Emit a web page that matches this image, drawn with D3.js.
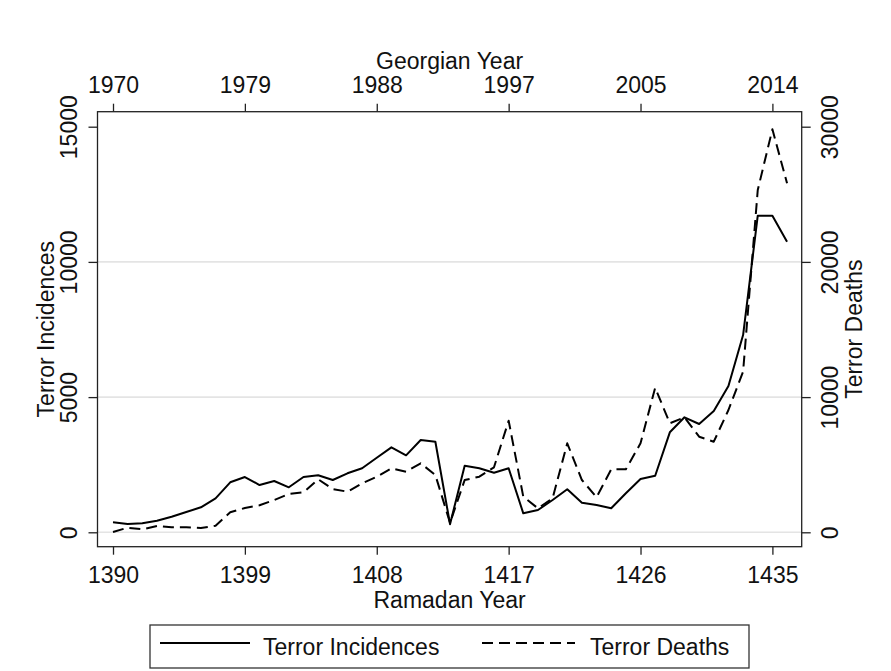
<!DOCTYPE html>
<html>
<head>
<meta charset="utf-8">
<style>
body {
    margin: 0;
    background: #fff;
    font-family: "Liberation Sans", Arial, sans-serif;
}
svg text {
    font-size: 23px;
    fill: #111;
}
.grid line {
    stroke: #e4e4e4;
    stroke-width: 1.6;
}
.axis path {
    display: none;
}
.axis line {
    stroke: #222;
    stroke-width: 1.3;
}
.series {
    fill: none;
    stroke: #000;
    stroke-width: 2;
    stroke-linejoin: round;
}
</style>
</head>
<body>
<script src="https://cdn.jsdelivr.net/npm/d3@7"></script>
<script>

// Ramadan (Hijri) years on the bottom axis
const years = [1390, 1391, 1392, 1393, 1394, 1395, 1396, 1397, 1398, 1399,
               1400, 1401, 1402, 1403, 1404, 1405, 1406, 1407, 1408, 1409,
               1410, 1411, 1412, 1413, 1414, 1415, 1416, 1417, 1418, 1419,
               1420, 1421, 1422, 1423, 1424, 1425, 1426, 1427, 1428, 1429,
               1430, 1431, 1432, 1433, 1434, 1435, 1436];

// left axis
const incidences = [370, 307, 333, 430, 577, 750, 924, 1257, 1849, 2045,
                    1749, 1897, 1664, 2045, 2108, 1934, 2182, 2367, 2759, 3143,
                    2847, 3413, 3350, 300, 2464, 2367, 2205, 2367, 702, 825,
                    1194, 1590, 1096, 1010, 887, 1442, 1971, 2093, 3698, 4253,
                    4005, 4486, 5410, 7296, 11708, 11708, 10746];

// right axis
const deaths = [24, 340, 222, 466, 370, 370, 318, 488, 1479, 1797,
                1997, 2389, 2833, 2958, 3920, 3202, 3003, 3624, 4112, 4733,
                4482, 5103, 4238, 700, 3868, 4112, 4807, 8254, 2633, 1775,
                2515, 6582, 3868, 2589, 4659, 4659, 6582, 10695, 8062, 8505,
                7070, 6701, 9045, 11878, 25317, 29806, 25812];

const ramadanTicks = [1390, 1399, 1408, 1417, 1426, 1435];
const georgianTicks = [1970, 1979, 1988, 1997, 2005, 2014];
const leftTicks = [0, 5000, 10000, 15000];
const rightTicks = [0, 10000, 20000, 30000];
const gridTicks = [0, 5000, 10000];

const
    width = 891,
    height = 671,
    frame = {left: 97.5, top: 111.7, right: 801.7, bottom: 546.7};

const svg = d3.select('body')
    .append('svg')
    .attr('width', width)
    .attr('height', height);

const
    x = d3.scaleLinear().domain([1390, 1435]).range([113, 772.4]),
    yL = d3.scaleLinear().domain([0, 15000]).range([532.3, 126.7]),
    yR = d3.scaleLinear().domain([0, 30000]).range([532.3, 126.7]);

// gridlines
svg.append('g')
    .classed('grid', true)
    .selectAll('line')
    .data(gridTicks)
  .enter().append('line')
    .attr('x1', frame.left)
    .attr('x2', frame.right)
    .attr('y1', d => yL(d))
    .attr('y2', d => yL(d));

// bottom axis
svg.append('g')
    .classed('axis', true)
    .attr('transform', 'translate(0,' + frame.bottom + ')')
    .call(d3.axisBottom(x).tickValues(ramadanTicks).tickSize(8).tickPadding(12).tickFormat(d3.format('d')));

// top axis: same positions, Georgian labels
svg.append('g')
    .classed('axis', true)
    .attr('transform', 'translate(0,' + frame.top + ')')
    .call(d3.axisTop(x).tickValues(ramadanTicks).tickSize(8).tickPadding(10.4)
        .tickFormat((d, i) => georgianTicks[i]));

// left axis, rotated labels
svg.append('g')
    .classed('axis', true)
    .attr('transform', 'translate(' + frame.left + ',0)')
    .call(d3.axisLeft(yL).tickValues(leftTicks).tickSize(9).tickFormat(d3.format('d')))
    .selectAll('text')
    .attr('transform', 'rotate(-90)')
    .attr('x', 0)
    .attr('y', -20.5)
    .attr('dy', null)
    .attr('text-anchor', 'middle');

// right axis, rotated labels
svg.append('g')
    .classed('axis', true)
    .attr('transform', 'translate(' + frame.right + ',0)')
    .call(d3.axisRight(yR).tickValues(rightTicks).tickSize(9).tickFormat(d3.format('d')))
    .selectAll('text')
    .attr('transform', 'rotate(-90)')
    .attr('x', 0)
    .attr('y', 36.5)
    .attr('dy', null)
    .attr('text-anchor', 'middle');

svg.selectAll('.axis').attr('font-family', null).attr('font-size', null);

// plot frame
svg.append('rect')
    .attr('x', frame.left)
    .attr('y', frame.top)
    .attr('width', frame.right - frame.left)
    .attr('height', frame.bottom - frame.top)
    .attr('fill', 'none')
    .attr('stroke', '#222')
    .attr('stroke-width', 1.3);

// series
const incLine = d3.line().x((d, i) => x(years[i])).y(d => yL(d));
const deathLine = d3.line().x((d, i) => x(years[i])).y(d => yR(d));

svg.append('path')
    .classed('series', true)
    .attr('d', incLine(incidences));

svg.append('path')
    .classed('series', true)
    .attr('stroke-dasharray', '11,6')
    .attr('d', deathLine(deaths));

// axis titles
const midY = (frame.top + frame.bottom) / 2,
      midX = (frame.left + frame.right) / 2;

svg.append('text')
    .attr('x', midX)
    .attr('y', 69)
    .attr('text-anchor', 'middle')
    .text('Georgian Year');

svg.append('text')
    .attr('x', midX)
    .attr('y', 607.5)
    .attr('text-anchor', 'middle')
    .text('Ramadan Year');

svg.append('text')
    .attr('transform', 'translate(53.5,' + midY + ') rotate(-90)')
    .attr('text-anchor', 'middle')
    .text('Terror Incidences');

svg.append('text')
    .attr('transform', 'translate(862,' + midY + ') rotate(-90)')
    .attr('text-anchor', 'middle')
    .text('Terror Deaths');

// legend
const legend = svg.append('g').classed('legend', true);

legend.append('rect')
    .attr('x', 150)
    .attr('y', 625)
    .attr('width', 599)
    .attr('height', 43)
    .attr('fill', '#fff')
    .attr('stroke', '#333')
    .attr('stroke-width', 1.3);

const legendItems = [
    {label: 'Terror Incidences', dash: null, x0: 160, x1: 250, tx: 263},
    {label: 'Terror Deaths', dash: '11,6', x0: 482, x1: 575, tx: 590}
];

const item = legend.selectAll('.item')
    .data(legendItems)
  .enter().append('g')
    .classed('item', true);

item.append('line')
    .attr('x1', d => d.x0)
    .attr('x2', d => d.x1)
    .attr('y1', 643)
    .attr('y2', 643)
    .attr('stroke', '#000')
    .attr('stroke-width', 2)
    .attr('stroke-dasharray', d => d.dash);

item.append('text')
    .attr('x', d => d.tx)
    .attr('y', 655)
    .text(d => d.label);

</script>
</body>
</html>
